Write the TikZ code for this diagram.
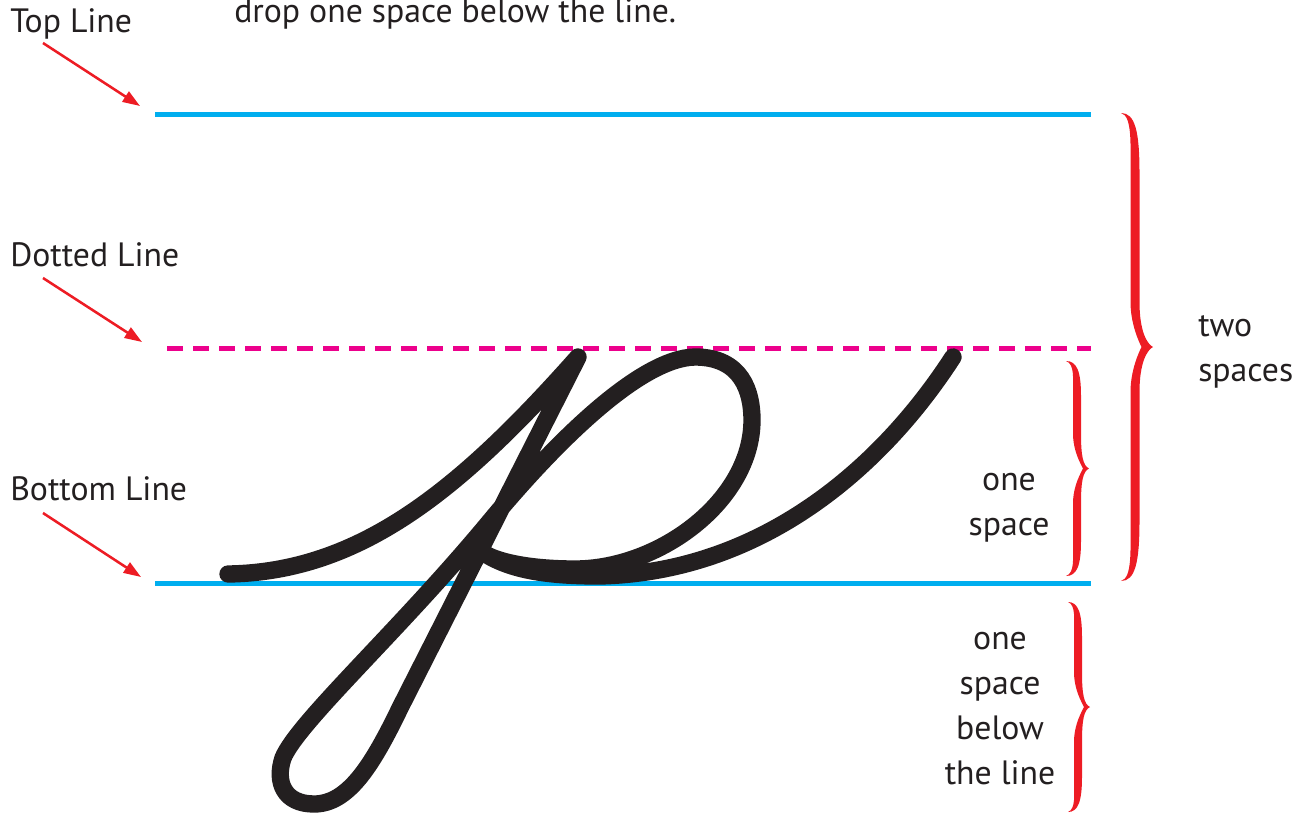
\documentclass[tikz,border=0pt]{standalone}
\usepackage{fontspec}
\setmainfont{PT Sans}
\usetikzlibrary{arrows.meta}
\definecolor{lineB}{RGB}{0,174,239}
\definecolor{lineM}{RGB}{236,0,140}
\definecolor{braceC}{RGB}{237,28,36}
\definecolor{inkC}{RGB}{35,31,32}
\newcommand\BraceR[8]{%
 \pgfmathsetmacro\bYm{(#2+#3)/2}%
 \pgfmathsetmacro\bXo{#4+#5/2}%
 \pgfmathsetmacro\bXi{#4-#5/2}%
 \pgfmathsetmacro\bXc{#1+(#4-#1)*0.8}%
 \fill[braceC] (#1,#2) .. controls (#4,#2) and (\bXo,#2+#7*0.3) .. (\bXo,#2+#7)
 -- (\bXo,\bYm-#8) .. controls (\bXo,\bYm-#8*0.35) and (#6-6,\bYm-3) .. (#6,\bYm)
 .. controls (#6-6,\bYm+3) and (\bXo,\bYm+#8*0.35) .. (\bXo,\bYm+#8)
 -- (\bXo,#3-#7) .. controls (\bXo,#3-#7*0.3) and (#4,#3) .. (#1,#3)
 .. controls (\bXc,#3-3) and (\bXi,#3-#7*0.5) .. (\bXi,#3-#7)
 -- (\bXi,\bYm+#8) .. controls (\bXi,\bYm+#8*0.5) and (\bXo,\bYm+4) .. (\bXo+2,\bYm)
 .. controls (\bXo,\bYm-4) and (\bXi,\bYm-#8*0.5) .. (\bXi,\bYm-#8)
 -- (\bXi,#2+#7) .. controls (\bXi,#2+#7*0.5) and (\bXc,#2+3) .. (#1,#2) -- cycle;
}
\begin{document}
\begin{tikzpicture}[x=0.75pt,y=-0.75pt,
  txt/.style={text=inkC,inner sep=0pt,font=\fontsize{25.3}{30}\selectfont},
  bline/.style={draw=lineB,line width=3.75pt},
  mline/.style={draw=lineM,line width=3.75pt,dash pattern=on 12pt off 7.5pt},
  pointer/.style={draw=braceC,line width=1.9pt,-{Triangle[length=13pt,width=9pt]}},
  letter/.style={draw=inkC,line width=13pt,line cap=round,line join=round}]
\useasboundingbox (0,0) rectangle (1307,815);
% guide lines
\coordinate (T1) at (155,114); \coordinate (T2) at (1091,114);
\coordinate (D1) at (167,348); \coordinate (D2) at (1091,348);
\coordinate (B1) at (155,583); \coordinate (B2) at (1091,583);
\draw[bline] (T1) -- (T2);
\draw[mline] (D1) -- (D2);
\draw[bline] (B1) -- (B2);
% labels
\node[txt,anchor=base west] (toplab) at (10,32) {Top Line};
\node[txt,anchor=base west] (dotlab) at (10,266) {Dotted Line};
\node[txt,anchor=base west] (botlab) at (10,500) {Bottom Line};
\node[txt,anchor=base west] (head) at (234,22) {drop one space below the line.};
% pointers
\coordinate (ta) at (43,43); \coordinate (tb) at (140,106);
\coordinate (da) at (43,278); \coordinate (db) at (142,342);
\coordinate (ba) at (43,513); \coordinate (bb) at (141,577);
\draw[pointer] (ta) -- (tb);
\draw[pointer] (da) -- (db);
\draw[pointer] (ba) -- (bb);
% letter
\draw[letter] (228,574) .. controls (360,572) and (460,490) .. (578,357)
 -- (400,708) .. controls (372,766) and (348,804) .. (314,804)
 .. controls (284,804) and (275,782) .. (283,758)
 .. controls (298,722) and (400,630) .. (491,520)
 .. controls (555,443) and (640,358) .. (695,357)
 .. controls (742,357) and (752,392) .. (752,420)
 .. controls (752,500) and (660,569) .. (575,569)
 .. controls (530,569) and (500,562) .. (487,555)
 .. controls (515,572) and (555,576) .. (600,576)
 .. controls (760,572) and (880,470) .. (953,357);
% braces
\BraceR{1121}{113}{581}{1135}{9}{1153}{60}{45}
\BraceR{1066}{361}{576}{1077}{8}{1089}{35}{35}
\BraceR{1068}{602}{812}{1078}{8}{1090}{35}{35}
% brace labels
\node[txt,anchor=base west] (two1) at (1198,336) {two};
\node[txt,anchor=base west] (two2) at (1198,381) {spaces};
\node[txt,anchor=base] (one1) at (1009,490) {one};
\node[txt,anchor=base] (one2) at (1009,535) {space};
\node[txt,anchor=base] (low1) at (1000,649) {one};
\node[txt,anchor=base] (low2) at (1000,694) {space};
\node[txt,anchor=base] (low3) at (1000,739) {below};
\node[txt,anchor=base] (low4) at (1000,784) {the line};
\end{tikzpicture}
\end{document}
